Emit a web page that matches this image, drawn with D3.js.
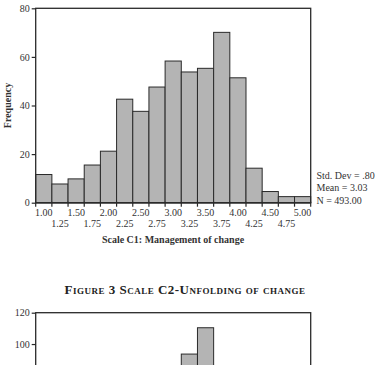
<!DOCTYPE html>
<html><head><meta charset="utf-8">
<script src="https://cdn.jsdelivr.net/npm/d3@7"></script>
<style>
html,body{margin:0;padding:0;background:#fff;}
svg{display:block;font-family:"Liberation Serif","Times New Roman",serif;}
</style></head>
<body><svg id="c" width="379" height="365"></svg>
<script>
// ---- data ----
const bins = ["1.00","1.25","1.50","1.75","2.00","2.25","2.50","2.75","3.00","3.25","3.50","3.75","4.00","4.25","4.50","4.75","5.00"];
const freqC1 = [11.6,7.7,9.8,15.5,21.2,42.6,37.6,47.6,58.3,53.8,55.3,70.1,51.4,14.2,4.6,2.5,2.5];
const yTicksC1 = [0,20,40,60,80];
const statsC1 = ["Std. Dev = .80","Mean = 3.03","N = 493.00"];
const xTitleC1 = "Scale C1: Management of change";
const yTitle = "Frequency";
const figTitle2 = "Figure 3 Scale C2-Unfolding of change";
// second chart: only the bars visible in the picture are known
const freqC2 = [null,null,null,null,null,null,null,null,null,93.6,110.4,null,null,null,null,null,null];
const yTicksC2 = [100,120];

const svg = d3.select("#c");
const L = 35.7, R = 310.7;
const ink = "#2a2a2a", barFill = "#b4b4b4", txt = "#333";

function chart(g, data, yMax, yBottom, yTop, ticks, showX){
  const x = d3.scaleBand().domain(bins).range([L, R]).padding(0);
  const y = d3.scaleLinear().domain([0, yMax]).range([yBottom, yTop]);
  g.selectAll("rect.bar").data(bins.map((b,i)=>({b, v:data[i]})).filter(d=>d.v!=null))
    .join("rect").attr("class","bar")
    .attr("x", d=>x(d.b)).attr("width", x.bandwidth())
    .attr("y", d=>y(d.v)).attr("height", d=>yBottom - y(d.v))
    .attr("fill", barFill).attr("stroke", ink).attr("stroke-width", 1);
  g.append("rect").attr("x", L).attr("y", yTop).attr("width", R-L).attr("height", yBottom-yTop)
    .attr("fill","none").attr("stroke", ink).attr("stroke-width", 1.3);
  const ya = d3.axisLeft(y).tickValues(ticks).tickSize(4).tickPadding(2).tickFormat(d3.format("d"));
  const yg = g.append("g").attr("transform",`translate(${L},0)`).call(ya);
  yg.select(".domain").remove();
  yg.selectAll("line").attr("stroke", ink).attr("stroke-width",1.2);
  yg.selectAll("text").attr("font-family","Liberation Serif").attr("font-size",10).attr("fill",txt);
  if(showX){
    const edges = bins.map(b=>x(b)).concat([R]);
    g.append("g").selectAll("line").data(edges).join("line")
      .attr("x1",d=>d).attr("x2",d=>d).attr("y1",yBottom-1).attr("y2",yBottom+4)
      .attr("stroke",ink).attr("stroke-width",1.2);
    g.append("line").attr("x1",L).attr("x2",R).attr("y1",yBottom).attr("y2",yBottom)
      .attr("stroke",ink).attr("stroke-width",1.6);
    g.append("g").selectAll("text").data(bins).join("text")
      .attr("x", d=>x(d)+x.bandwidth()/2)
      .attr("y", (d,i)=> yBottom + (i%2===0 ? 12.8 : 23.8))
      .attr("text-anchor","middle").attr("font-size",10).attr("fill",txt).text(d=>d);
  }
  return {x,y};
}

// Chart 1
const g1 = svg.append("g");
chart(g1, freqC1, 80, 202.7, 8.3, yTicksC1, true);
g1.append("text").attr("transform","translate(11,105.5) rotate(-90)")
  .attr("text-anchor","middle").attr("font-size",10).attr("font-weight","bold").attr("fill",txt).text(yTitle);
g1.append("text").attr("x",173).attr("y",243).attr("text-anchor","middle")
  .attr("font-size",10).attr("font-weight","bold").attr("fill",txt).text(xTitleC1);
g1.append("g").selectAll("text").data(statsC1).join("text")
  .attr("x",316.5).attr("y",(d,i)=>178.5+i*12.5).attr("font-size",10).attr("fill",txt).text(d=>d);

// Title of figure 3
svg.append("text").attr("x",185).attr("y",293.5).attr("text-anchor","middle")
  .attr("font-size",13).attr("font-weight","bold").attr("fill","#222")
  .attr("letter-spacing",0.5)
  .style("font-variant","small-caps").text(figTitle2);

// Chart 2 (cut off by the page)
const g2 = svg.append("g");
chart(g2, freqC2, 120, 312.7 + 120*1.567, 312.7, yTicksC2, false);
</script></body></html>
